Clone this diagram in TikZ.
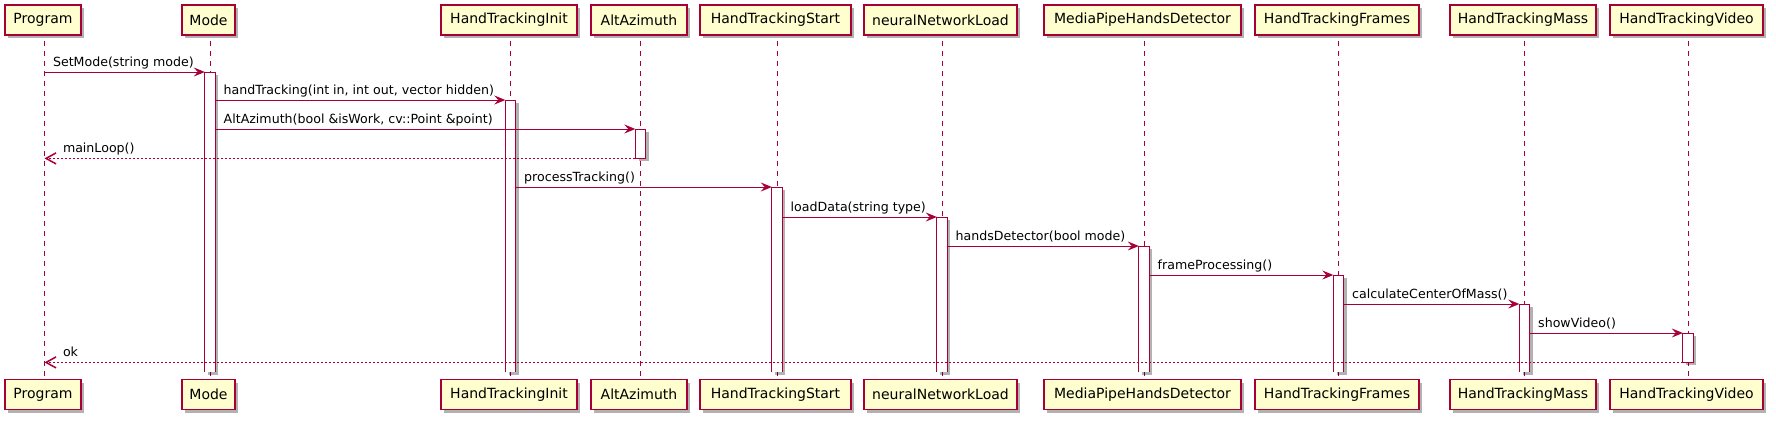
\documentclass[tikz,border=0pt]{standalone}
\usepackage{fontspec}
\setmainfont{DejaVu Sans}
\usetikzlibrary{arrows.meta}
\usetikzlibrary{shadows}
\definecolor{umlred}{HTML}{A80036}
\definecolor{umlfill}{HTML}{FEFECE}
\tikzset{
    umlshadow/.style={drop shadow={shadow xshift=3pt, shadow yshift=-3pt, fill=black, opacity=0.3}},
    participant/.style={draw=umlred, line width=1.5pt, fill=umlfill, minimum height=30pt,
        inner xsep=2pt, inner ysep=0pt, font=\fontsize{14}{16}\selectfont, umlshadow},
    lifeline/.style={umlred, line width=1pt, dash pattern=on 5pt off 5pt},
    activation/.style={fill=white, minimum width=10pt, inner sep=0pt, anchor=north, umlshadow},
    actline/.style={umlred, line width=1pt},
    msg/.style={umlred, line width=1pt, -{Stealth[length=11pt, width=9pt, inset=4pt]}},
    ret/.style={umlred, line width=1pt, dash pattern=on 2pt off 2pt,
        -{Straight Barb[length=10pt, width=11pt, line width=1.5pt]}},
    msglabel/.style={anchor=base west, inner sep=0pt, text=black, font=\fontsize{12.6}{15}\selectfont}
}
\begin{document}
\begin{tikzpicture}[x=1pt, y=-1pt]
            \useasboundingbox (0,0) rectangle (1776,423);

            % participants, top and bottom
            \foreach \n/\x/\w/\t in {program/43/75.7/Program, mode/208.5/53/Mode, htInit/509/136/HandTrackingInit,
                    altAz/639/96/AltAzimuth, htStart/775.5/151/HandTrackingStart, nnLoad/940.5/153/neuralNetworkLoad,
                    mpDetector/1142.5/197/MediaPipeHandsDetector, htFrames/1337/164/HandTrackingFrames,
                    htMass/1523/146/HandTrackingMass, htVideo/1686.5/153/HandTrackingVideo}
            {
                \node[participant, minimum width=\w pt] (\n) at (\x,20) {\t};
                \node[participant, minimum width=\w pt] (\n B) at (\x,394.5) {\t};
                \draw[lifeline] ([shift={(1.5pt,-5pt)}]\n.south) -- ([xshift=1.5pt]\n B.north);
            }

            % activations
            \foreach \n/\a/\h in {mode/72/300, htInit/100/272, altAz/129/29, htStart/187/185, nnLoad/217/155,
                    mpDetector/246/126, htFrames/275/97, htMass/304/68, htVideo/333/29}
                \node[activation, minimum height=\h pt, xshift=1.5pt] (act\n) at (\n |- 0,\a) {};

            % closed bars
            \draw[actline] (actaltAz.south west) rectangle (actaltAz.north east);
            \draw[actline] (acthtVideo.south west) rectangle (acthtVideo.north east);

            % open bars
            \foreach \n in {mode, htInit, htStart, nnLoad, mpDetector, htFrames, htMass}
                \draw[actline] (act\n.south west) |- (act\n.north east) -- (act\n.south east);

            % messages
            \draw[msg] ([xshift=1.5pt]program.center |- actmode.north) -- (actmode.north west)
                node[pos=0, msglabel, xshift=8pt, yshift=6pt] {SetMode(string mode)};
            \draw[msg] (actmode.east |- acthtInit.north) -- (acthtInit.north west)
                node[pos=0, msglabel, xshift=8pt, yshift=6pt] {handTracking(int in, int out, vector hidden)};
            \draw[msg] (actmode.east |- actaltAz.north) -- (actaltAz.north west)
                node[pos=0, msglabel, xshift=8pt, yshift=6pt] {AltAzimuth(bool \&isWork, cv::Point \&point)};
            \draw[ret] (actaltAz.south west) -- ([xshift=1.5pt]program.center |- actaltAz.south)
                node[pos=1, msglabel, xshift=18pt, yshift=6pt] {mainLoop()};
            \draw[msg] (acthtInit.east |- acthtStart.north) -- (acthtStart.north west)
                node[pos=0, msglabel, xshift=8pt, yshift=6pt] {processTracking()};
            \draw[msg] (acthtStart.east |- actnnLoad.north) -- (actnnLoad.north west)
                node[pos=0, msglabel, xshift=8pt, yshift=6pt] {loadData(string type)};
            \draw[msg] (actnnLoad.east |- actmpDetector.north) -- (actmpDetector.north west)
                node[pos=0, msglabel, xshift=8pt, yshift=6pt] {handsDetector(bool mode)};
            \draw[msg] (actmpDetector.east |- acthtFrames.north) -- (acthtFrames.north west)
                node[pos=0, msglabel, xshift=8pt, yshift=6pt] {frameProcessing()};
            \draw[msg] (acthtFrames.east |- acthtMass.north) -- (acthtMass.north west)
                node[pos=0, msglabel, xshift=8pt, yshift=6pt] {calculateCenterOfMass()};
            \draw[msg] (acthtMass.east |- acthtVideo.north) -- (acthtVideo.north west)
                node[pos=0, msglabel, xshift=8pt, yshift=6pt] {showVideo()};
            \draw[ret] (acthtVideo.south west) -- ([xshift=1.5pt]program.center |- acthtVideo.south)
                node[pos=1, msglabel, xshift=18pt, yshift=6pt] {ok};
        \end{tikzpicture}
\end{document}
